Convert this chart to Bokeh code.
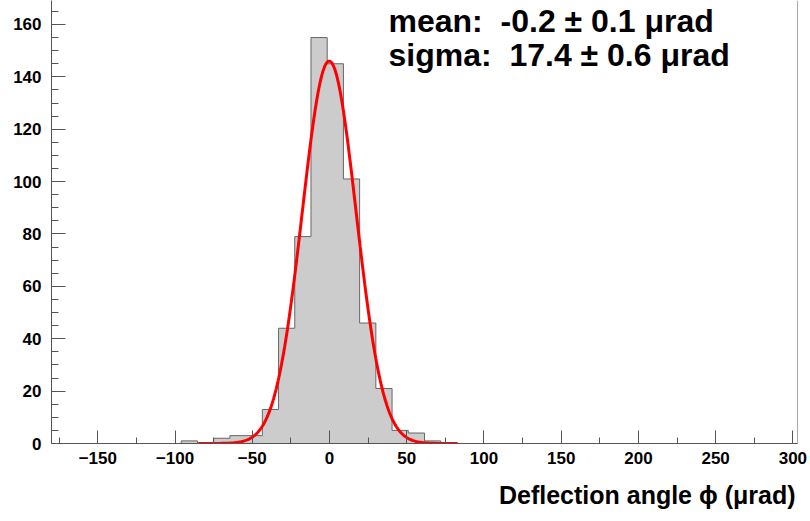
import numpy as np
from bokeh.plotting import figure
from bokeh.models import Range1d, SingleIntervalTicker, Span, Label, Title
from bokeh.embed import file_html
from bokeh.resources import INLINE

# ---- data ----
bin_low = -180.0
bin_width = 10.5
counts = [0, 0, 0, 0, 0, 0, 0, 0,
          1, 0, 2, 3, 3, 13, 44, 79, 155, 145, 101, 46, 21, 5, 4, 1,
          0, 0, 0, 0, 0, 0, 0, 0, 0, 0, 0, 0, 0, 0, 0, 0, 0, 0, 0, 0, 0, 0]
fit_amp = 146.0
fit_mean = -0.2
fit_sigma = 17.4
fit_range = (-85.0, 83.0)
stat_lines = ["mean:\u00a0\u00a0-0.2 \u00b1 0.1 \u03bcrad",
              "sigma:\u00a0\u00a017.4 \u00b1 0.6 \u03bcrad"]
x_title = "Deflection angle \u03d5 (\u03bcrad)"

n = len(counts)
lefts = [bin_low + bin_width * k for k in range(n)]
x_max = lefts[-1] + bin_width

FONT = "Liberation Sans"

p = figure(width=810, height=521, output_backend="svg", toolbar_location=None,
           x_range=Range1d(bin_low, x_max), y_range=Range1d(0, 169.15),
           min_border_left=51, min_border_right=13, min_border_top=0, min_border_bottom=0)
p.outline_line_color = None
p.xgrid.visible = False
p.ygrid.visible = False
p.background_fill_color = "white"
p.border_fill_color = "white"

step_x = lefts + [x_max]
step_y = list(counts) + [counts[-1]]
p.varea_step(x=step_x, y1=[0] * len(step_x), y2=step_y, step_mode="after",
             fill_color="#cccccc")
p.step(step_x, step_y, mode="after", line_color="#666666", line_width=1)

xf = np.linspace(fit_range[0], fit_range[1], 400)
yf = fit_amp * np.exp(-0.5 * ((xf - fit_mean) / fit_sigma) ** 2)
p.line(xf, yf, line_color="#ff0000", line_width=3)

for ax in (p.xaxis, p.yaxis):
    ax.axis_line_color = "#555555"
    ax.major_tick_line_color = "#555555"
    ax.minor_tick_line_color = "#555555"
    ax.major_tick_out = 0
    ax.minor_tick_out = 0
    ax.major_label_text_font = FONT
    ax.major_label_text_font_style = "bold"
    ax.major_label_text_font_size = "17px"
    ax.major_label_text_color = "black"

p.xaxis.ticker = SingleIntervalTicker(interval=50, num_minor_ticks=2)
p.xaxis.major_tick_in = 13
p.xaxis.minor_tick_in = 6
p.xaxis.major_label_standoff = 8

p.yaxis.ticker = SingleIntervalTicker(interval=20, num_minor_ticks=4)
p.yaxis.major_tick_in = 14
p.yaxis.minor_tick_in = 7
p.yaxis.major_label_standoff = 10

p.add_layout(Span(location=x_max, dimension="height", line_color="#555555", line_width=1))

for t, yb in zip(stat_lines, [161.5, 148.2]):
    p.add_layout(Label(x=38.2, y=yb, text=t, text_font=FONT,
                       text_font_style="bold", text_font_size="32px",
                       text_color="black", text_baseline="alphabetic"))

p.add_layout(Title(text=x_title, align="right", text_font=FONT,
                   text_font_style="bold", text_font_size="25px", text_color="black",
                   standoff=25, offset=2), "below")

open("out.html", "w").write(file_html(p, INLINE))
